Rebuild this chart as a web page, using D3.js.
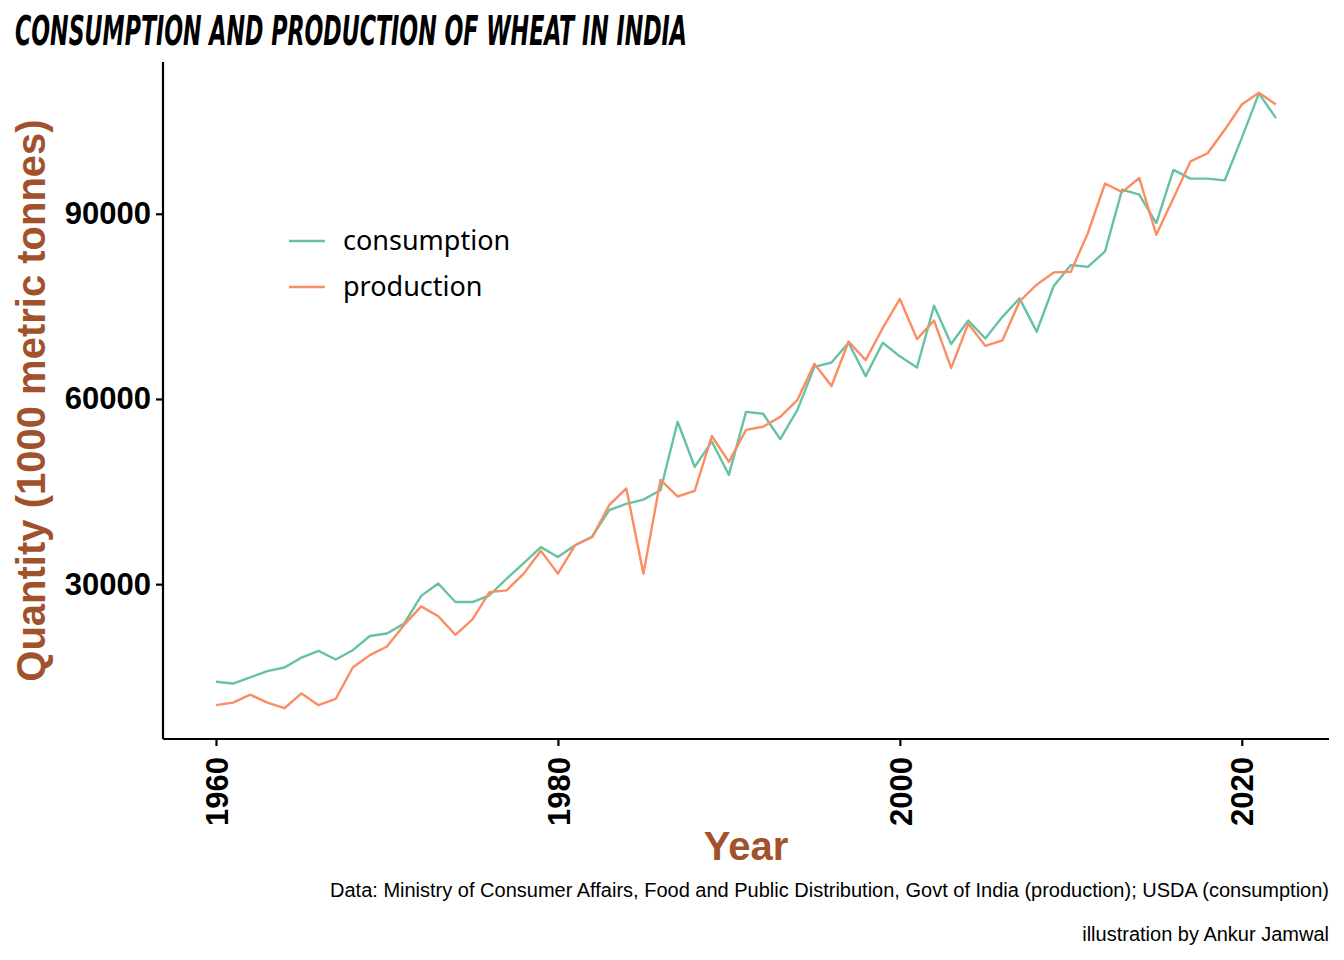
<html lang="en">
  <head>
    <meta charset="UTF-8" />
    <title>Consumption and production of wheat in India</title>
    <script src="https://d3js.org/d3.v7.min.js"></script>
  </head>
  <style>
    body {
      margin: 0;
      background: white;
    }

    .tick text {
      font-family: "Liberation Sans", Arial, sans-serif;
      font-weight: bold;
      font-size: 31px;
      fill: black;
    }

    .axis-title {
      font-family: "Liberation Sans", Arial, sans-serif;
      font-weight: bold;
      font-size: 40px;
      fill: #a0522d;
    }

    .caption {
      font-family: "Liberation Sans", Arial, sans-serif;
      font-size: 20px;
      fill: black;
    }

    .legend text {
      font-family: "Noto Sans", "Open Sans", sans-serif;
      font-size: 27px;
      fill: black;
    }
  </style>
  <body>
    <div id="viz"></div>
    <script>
      // years 1960 - 2022, quantities in 1000 metric tonnes
      var years = d3.range(1960, 2023);

      var consumption = [
        14200, 13900, 14900, 15900, 16500, 18100, 19200, 17800, 19300, 21600,
        22000, 23600, 28100, 30100, 27100, 27100, 28200, 30900, 33400, 36000,
        34400, 36300, 37700, 42000, 43000, 43700, 45200, 56300, 49000, 53100,
        47700, 57900, 57600, 53500, 58200, 65200, 65900, 69100, 63700, 69100,
        66900, 65100, 75100, 68900, 72700, 69800, 73300, 76300, 70900, 78300,
        81700, 81400, 83900, 93900, 93100, 88500, 97100, 95700, 95700, 95400,
        102300, 109500, 105500
      ];

      var production = [
        10400, 10800, 12100, 10800, 9900, 12300, 10400, 11400, 16500, 18500,
        19900, 23400, 26400, 24800, 21800, 24300, 28700, 29000, 31700, 35400,
        31700, 36300, 37600, 42800, 45500, 31700, 46900, 44200, 45100, 54000,
        49800, 55000, 55500, 57100, 59800, 65700, 62100, 69300, 66300, 71500,
        76200, 69700, 72700, 65000, 72200, 68600, 69500, 75800, 78500, 80500,
        80600, 86900, 94900, 93500, 95800, 86600, 92500, 98500, 99800, 103600,
        107700, 109600, 107700
      ];

      var seriesNames = ["consumption", "production"];
      var seriesColors = ["#66c2a5", "#fc8d62"];
      var xTicks = [1960, 1980, 2000, 2020];
      var yTicks = [30000, 60000, 90000];

      var width = 1344,
        height = 960;
      var panel = { left: 163, right: 1329, top: 62, bottom: 739 };

      var svg = d3
        .select("#viz")
        .append("svg")
        .attr("width", width)
        .attr("height", height);

      // ggplot style 5% expansion
      var xExt = d3.extent(years);
      var xPad = (xExt[1] - xExt[0]) * 0.05;
      var allVals = consumption.concat(production);
      var yExt = d3.extent(allVals);
      var yPad = (yExt[1] - yExt[0]) * 0.05;

      var x = d3
        .scaleLinear()
        .domain([xExt[0] - xPad, xExt[1] + xPad])
        .range([panel.left, panel.right]);

      var y = d3
        .scaleLinear()
        .domain([yExt[0] - yPad, yExt[1] + yPad])
        .range([panel.bottom, panel.top]);

      var series = [consumption, production];

      var line = d3
        .line()
        .x(function (d, i) {
          return x(years[i]);
        })
        .y(function (d) {
          return y(d);
        });

      svg
        .append("g")
        .selectAll("path")
        .data(series)
        .enter()
        .append("path")
        .attr("d", line)
        .attr("fill", "none")
        .attr("stroke", function (d, i) {
          return seriesColors[i];
        })
        .attr("stroke-width", 2.4)
        .attr("stroke-linejoin", "round");

      // axes
      var xAxis = svg
        .append("g")
        .attr("transform", "translate(0," + panel.bottom + ")")
        .call(
          d3.axisBottom(x).tickValues(xTicks).tickFormat(d3.format("d")).tickSize(7).tickSizeOuter(0)
        );
      xAxis
        .selectAll(".tick text")
        .attr("transform", "rotate(-90)")
        .attr("text-anchor", "end")
        .attr("x", -18)
        .attr("y", 0)
        .attr("dy", "0.36em");

      var yAxis = svg
        .append("g")
        .attr("transform", "translate(" + panel.left + ",0)")
        .call(d3.axisLeft(y).tickValues(yTicks).tickFormat(d3.format("d")).tickSize(7).tickSizeOuter(0));
      yAxis.selectAll(".tick text").attr("x", -12);

      svg.selectAll(".domain, .tick line").attr("stroke", "black").attr("stroke-width", 2.2);
      xAxis.select(".domain").attr("d", "M" + panel.left + ",0H" + panel.right);
      yAxis.select(".domain").attr("d", "M0," + panel.top + "V" + panel.bottom);

      // axis titles
      svg
        .append("text")
        .attr("class", "axis-title")
        .attr("x", (panel.left + panel.right) / 2)
        .attr("y", 860)
        .attr("text-anchor", "middle")
        .text("Year");

      svg
        .append("text")
        .attr("class", "axis-title")
        .attr("transform", "translate(45," + (panel.top + panel.bottom) / 2 + ") rotate(-90)")
        .attr("text-anchor", "middle")
        .text("Quantity (1000 metric tonnes)");

      // title
      svg
        .append("text")
        .attr("x", 15)
        .attr("y", 45)
        .attr("textLength", 672)
        .attr("lengthAdjust", "spacingAndGlyphs")
        .style("font-family", "'Liberation Sans Narrow', 'DejaVu Sans Condensed', sans-serif")
        .style("font-weight", "bold")
        .style("font-style", "italic")
        .style("font-size", "40px")
        .text("CONSUMPTION AND PRODUCTION OF WHEAT IN INDIA");

      // legend
      var legend = svg
        .append("g")
        .attr("class", "legend")
        .selectAll("g")
        .data(seriesNames)
        .enter()
        .append("g")
        .attr("transform", function (d, i) {
          return "translate(289," + (241 + i * 46) + ")";
        });

      legend
        .append("line")
        .attr("x1", 0)
        .attr("x2", 36)
        .attr("stroke", function (d, i) {
          return seriesColors[i];
        })
        .attr("stroke-width", 2.5);

      legend
        .append("text")
        .attr("x", 54)
        .attr("dy", "0.35em")
        .text(function (d) {
          return d;
        });

      // captions
      svg
        .append("text")
        .attr("class", "caption")
        .attr("x", 1329)
        .attr("y", 897)
        .attr("text-anchor", "end")
        .text(
          "Data: Ministry of Consumer Affairs, Food and Public Distribution, Govt of India (production); USDA (consumption)"
        );

      svg
        .append("text")
        .attr("class", "caption")
        .attr("x", 1329)
        .attr("y", 941)
        .attr("text-anchor", "end")
        .text("illustration by Ankur Jamwal");
    </script>
  </body>
</html>
